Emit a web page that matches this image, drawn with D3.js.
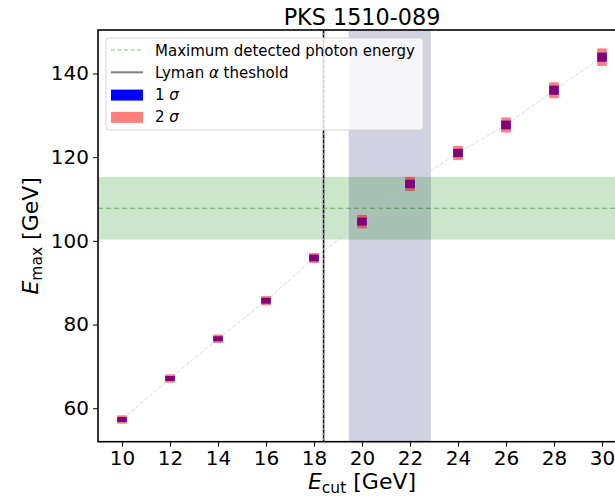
<!DOCTYPE html>
<html>
<head>
<meta charset="utf-8">
<script src="https://cdn.jsdelivr.net/npm/d3@7"></script>
<style>
  body { margin: 0; background: #fff; }
  svg { font-family: "DejaVu Sans", sans-serif; }
</style>
</head>
<body>
<svg id="chart" width="615" height="499"></svg>
<script>
// Cutoff energies (x) and the resulting max energies (y)
const ECUT = [10, 12, 14, 16, 18, 20, 22, 24, 26, 28, 30];
const EMAX = [57.3, 67.1, 76.6, 85.7, 95.9, 104.6, 113.6, 121.0, 127.7, 136.0, 143.9];
// Half heights of the 1 sigma and 2 sigma boxes, GeV
const SIG1 = [0.6, 0.6, 0.6, 0.7, 0.8, 0.95, 1.0, 1.0, 1.05, 1.1, 1.1];
const SIG2 = [1.0, 1.0, 1.0, 1.1, 1.2, 1.6, 1.7, 1.7, 1.8, 1.9, 2.1];

const XTICKS = [10, 12, 14, 16, 18, 20, 22, 24, 26, 28, 30];
const YTICKS = [60, 80, 100, 120, 140];

const PHOTON_MAX = 107.8;
const PHOTON_BAND = [100.3, 115.3];
const LYMAN = 18.4;
const CUT_BAND = [19.45, 22.87];

// legend rows, each label split in [plain, italic math, plain] pieces
const LEGEND = [
  {label: ['Maximum detected photon energy', '', ''], kind: 'dash'},
  {label: ['Lyman ', 'α', ' theshold'], kind: 'line'},
  {label: ['1 ', 'σ', ''], kind: 'blue'},
  {label: ['2 ', 'σ', ''], kind: 'red'}
];

let svg = d3.select('#chart');
let L = 98, T = 30, B = 441.7;

let x = d3.scaleLinear().domain([9, 31]).range([L, L + 22*24]);
let y = d3.scaleLinear().domain([52, 150.4]).range([B, T]);

let plot = svg.append('g');

// shaded bands
plot.append('rect')
  .attr('x', x(CUT_BAND[0]))
  .attr('width', x(CUT_BAND[1]) - x(CUT_BAND[0]))
  .attr('y', T).attr('height', B - T)
  .attr('fill', 'midnightblue').attr('opacity', 0.2);
plot.append('rect')
  .attr('x', L).attr('width', 615 - L)
  .attr('y', y(PHOTON_BAND[1]))
  .attr('height', y(PHOTON_BAND[0]) - y(PHOTON_BAND[1]))
  .attr('fill', 'green').attr('opacity', 0.2);
plot.append('line')
  .attr('x1', L).attr('x2', 615)
  .attr('y1', y(PHOTON_MAX)).attr('y2', y(PHOTON_MAX))
  .attr('stroke', 'green').attr('stroke-opacity', 0.5)
  .attr('stroke-width', 1.2).attr('stroke-dasharray', '5,3');

// Lyman alpha threshold: grey line with a black dashed line on top
plot.append('line')
  .attr('x1', x(LYMAN)).attr('x2', x(LYMAN))
  .attr('y1', T).attr('y2', B)
  .attr('stroke', 'grey').attr('stroke-width', 2);
plot.append('line')
  .attr('x1', x(LYMAN)).attr('x2', x(LYMAN))
  .attr('y1', T).attr('y2', B)
  .attr('stroke', 'black').attr('stroke-width', 1)
  .attr('stroke-dasharray', '3,2');

// faint trend line through the points
let pts = ECUT.map((c, i) => ({c: c, m: EMAX[i], s1: SIG1[i], s2: SIG2[i]}));
plot.append('path')
  .datum(pts)
  .attr('d', d3.line().x(d => x(d.c)).y(d => y(d.m)))
  .attr('fill', 'none')
  .attr('stroke', 'lightsteelblue').attr('stroke-opacity', 0.6)
  .attr('stroke-width', 1).attr('stroke-dasharray', '4,2');

// boxes: opaque blue 1 sigma, half transparent red 2 sigma over it
let bw = 0.2;
plot.selectAll('.s1').data(pts).enter()
  .append('rect').classed('s1', true)
  .attr('x', d => x(d.c - bw)).attr('width', x(2*bw) - x(0))
  .attr('y', d => y(d.m + d.s1)).attr('height', d => y(d.m - d.s1) - y(d.m + d.s1))
  .attr('fill', 'blue');
plot.selectAll('.s2').data(pts).enter()
  .append('rect').classed('s2', true)
  .attr('x', d => x(d.c - bw)).attr('width', x(2*bw) - x(0))
  .attr('y', d => y(d.m + d.s2)).attr('height', d => y(d.m - d.s2) - y(d.m + d.s2))
  .attr('fill', 'red').attr('opacity', 0.5);

// axes
let xAxis = svg.append('g')
  .attr('transform', `translate(0 ${B})`)
  .call(d3.axisBottom(x).tickValues(XTICKS).tickSizeOuter(0).tickSize(5).tickPadding(4));
let yAxis = svg.append('g')
  .attr('transform', `translate(${L} 0)`)
  .call(d3.axisLeft(y).tickValues(YTICKS).tickSizeOuter(0).tickSize(5).tickPadding(4));
[xAxis, yAxis].forEach(a => {
  a.select('.domain').remove();
  a.selectAll('line').attr('stroke', 'black').attr('stroke-width', 1);
  a.selectAll('text').attr('font-size', 20).attr('fill', 'black')
    .attr('font-family', '"DejaVu Sans", sans-serif');
});

// frame (right side falls off the picture)
svg.append('rect')
  .attr('x', L).attr('y', T)
  .attr('width', x(31) - L).attr('height', B - T)
  .attr('fill', 'none').attr('stroke', 'black').attr('stroke-width', 1.6);

// title and axis labels
svg.append('text')
  .attr('x', x(20)).attr('y', 25)
  .attr('text-anchor', 'middle').attr('font-size', 22.3)
  .text('PKS 1510-089');

let xl = svg.append('text')
  .attr('x', x(20)).attr('y', 489)
  .attr('text-anchor', 'middle').attr('font-size', 22);
xl.append('tspan').attr('font-style', 'italic').text('E');
xl.append('tspan').attr('font-size', 15.5).attr('dy', 4).text('cut');
xl.append('tspan').attr('dy', -4).text(' [GeV]');

let yl = svg.append('text')
  .attr('transform', `translate(38 ${(T + B)/2}) rotate(-90)`)
  .attr('text-anchor', 'middle').attr('font-size', 22);
yl.append('tspan').attr('font-style', 'italic').text('E');
yl.append('tspan').attr('font-size', 15.5).attr('dy', 4).text('max');
yl.append('tspan').attr('dy', -4).text(' [GeV]');

// legend
let lg = svg.append('g').attr('transform', 'translate(106 38)');
lg.append('rect')
  .attr('width', 317).attr('height', 92).attr('rx', 3)
  .attr('fill', 'white').attr('fill-opacity', 0.8)
  .attr('stroke', '#d6d6d6').attr('stroke-width', 1);
let rows = lg.selectAll('.row').data(LEGEND).enter()
  .append('g').classed('row', true)
  .attr('transform', (d, i) => `translate(0 ${12 + i*22.3})`);
rows.each(function(d) {
  let g = d3.select(this);
  if (d.kind === 'dash') {
    g.append('line').attr('x1', 5).attr('x2', 37).attr('y1', 0).attr('y2', 0)
      .attr('stroke', 'green').attr('stroke-opacity', 0.5).attr('stroke-width', 1.2)
      .attr('stroke-dasharray', '4,2.5');
  } else if (d.kind === 'line') {
    g.append('line').attr('x1', 5).attr('x2', 37).attr('y1', 0).attr('y2', 0)
      .attr('stroke', 'grey').attr('stroke-width', 2);
  } else {
    g.append('rect').attr('x', 5).attr('y', -5).attr('width', 32).attr('height', 11)
      .attr('fill', d.kind === 'blue' ? 'blue' : 'red')
      .attr('opacity', d.kind === 'blue' ? 1 : 0.5);
  }
  let t = g.append('text').attr('x', 49).attr('y', 5.5)
    .attr('font-size', 15).attr('xml:space', 'preserve');
  t.append('tspan').text(d.label[0]);
  t.append('tspan').attr('font-style', 'italic').text(d.label[1]);
  t.append('tspan').text(d.label[2]);
});
</script>
</body>
</html>
